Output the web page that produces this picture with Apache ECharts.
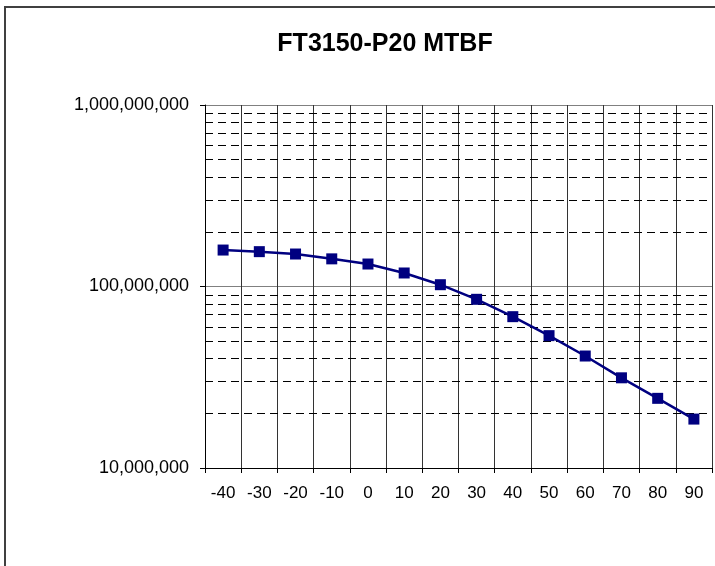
<!DOCTYPE html>
<html>
<head>
<meta charset="utf-8">
<script src="https://cdn.jsdelivr.net/npm/echarts@6/dist/echarts.min.js"></script>
<style>
  html, body { margin: 0; padding: 0; background: #fff; }
  #main { width: 715px; height: 566px; }
</style>
</head>
<body>
<div id="main"></div>
<script>
// temperature (C) categories
var temps = ['-40', '-30', '-20', '-10', '0', '10', '20', '30', '40', '50', '60', '70', '80', '90'];
// MTBF hours
var mtbf = [158800000, 155600000, 151000000, 142000000, 133000000, 118700000, 102300000,
            85000000, 68200000, 53600000, 41400000, 31400000, 24200000, 18600000];
// minor log gridlines (2..9 of each decade)
var minorGrid = [2e7, 3e7, 4e7, 5e7, 6e7, 7e7, 8e7, 9e7,
                 2e8, 3e8, 4e8, 5e8, 6e8, 7e8, 8e8, 9e8];

var chart = echarts.init(document.getElementById('main'));

function fmt(v) {
    return String(Math.round(v)).replace(/\B(?=(\d{3})+(?!\d))/g, ',');
}

var option = {
    backgroundColor: '#fff',
    animation: false,
    title: {
        text: 'FT3150-P20 MTBF',
        left: 380,
        textAlign: 'center',
        top: 27,
        textStyle: {
            fontFamily: 'Liberation Sans, Arial, sans-serif',
            fontSize: 25,
            fontWeight: 'bold',
            color: '#000'
        }
    },
    graphic: [{
        type: 'rect',
        shape: { x: 5, y: 7, width: 760, height: 620 },
        style: { fill: 'none', stroke: '#404040', lineWidth: 2 },
        silent: true
    }],
    grid: { left: 205, right: 3, top: 105, bottom: 98 },
    xAxis: {
        type: 'category',
        data: temps,
        boundaryGap: true,
        axisLine: { lineStyle: { color: '#000', width: 1 } },
        axisTick: { show: true, length: 5, inside: false, lineStyle: { color: '#000' } },
        axisLabel: {
            margin: 17,
            fontFamily: 'Liberation Sans, Arial, sans-serif',
            fontSize: 17,
            color: '#000'
        },
        splitLine: { show: true, lineStyle: { color: '#333', width: 1 } }
    },
    yAxis: {
        type: 'log',
        logBase: 10,
        min: 1e7,
        max: 1e9,
        axisLine: { show: true, lineStyle: { color: '#000', width: 1 } },
        axisTick: { show: true, length: 5, inside: false, lineStyle: { color: '#000' } },
        axisLabel: {
            margin: 16,
            fontFamily: 'Liberation Sans, Arial, sans-serif',
            fontSize: 18,
            color: '#000',
            formatter: fmt
        },
        splitLine: { show: true, lineStyle: { color: '#808080', width: 1 } }
    },
    series: [{
        name: 'MTBF',
        type: 'line',
        data: mtbf,
        symbol: 'rect',
        symbolSize: 11,
        itemStyle: { color: '#000080' },
        lineStyle: { color: '#000080', width: 2.5 },
        z: 5,
        markLine: {
            silent: true,
            symbol: 'none',
            label: { show: false },
            animation: false,
            lineStyle: { color: '#000', width: 1, type: [8, 5] },
            data: minorGrid.map(function (v) { return { yAxis: v }; })
        }
    }]
};

chart.setOption(option);
</script>
</body>
</html>
